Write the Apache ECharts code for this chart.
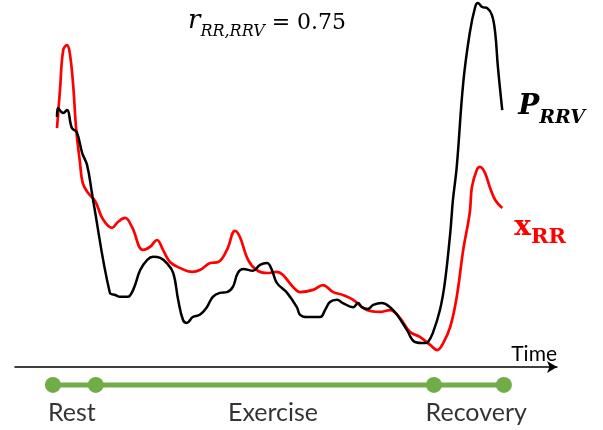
<!DOCTYPE html>
<html>
<head>
<meta charset="utf-8">
<script src="https://cdn.jsdelivr.net/npm/echarts@6/dist/echarts.min.js"></script>
<style>
  html, body { margin: 0; padding: 0; background: #fff; }
  #chart { width: 603px; height: 430px; }
</style>
</head>
<body>
<div id="chart"></div>
<script>
// time (0-100) vs normalised level (0-100)
const rrvTime = [7.75, 7.9, 8.9, 9.6, 10.5, 11.4, 12.4, 13.3, 14.2, 14.4, 17.5, 18.5, 19.4, 20.3, 20.8, 21.8, 23.1, 24.4, 25.5, 26.8, 28.0, 29.2, 30.1, 31.0, 31.7, 32.8, 34.1, 35.4, 36.5, 37.8, 39.1, 40.2, 41.1, 42.1, 43.9, 45.2, 46.5, 47.4, 48.3, 50.2, 52.0, 52.6, 53.9, 56.3, 57.2, 58.1, 59.4, 60.5, 62.4, 63.3, 64.0, 65.1, 66.1, 67.7, 69.2, 70.5, 72.3, 73.8, 75.6, 76.2, 77.1, 78.4, 79.3, 80.3, 80.8, 81.5, 82.7, 83.9, 84.9, 85.4, 86.2, 87.1, 88.0, 88.6, 89.1, 89.9];
const rrvLevel = [68.1, 70.6, 69.2, 70.0, 65.1, 64.0, 58.3, 55.0, 47.4, 45.5, 20.2, 19.6, 19.1, 19.1, 19.1, 21.0, 26.4, 29.2, 30.0, 29.7, 28.3, 25.6, 18.3, 12.8, 12.0, 13.6, 14.2, 16.3, 19.1, 20.2, 20.4, 21.8, 25.6, 26.7, 26.2, 27.8, 28.3, 26.4, 22.9, 20.2, 16.3, 14.2, 13.6, 13.6, 15.5, 17.7, 18.3, 17.4, 16.3, 17.4, 16.3, 15.8, 16.9, 17.4, 16.3, 14.2, 10.1, 6.8, 6.5, 6.8, 9.3, 15.5, 22.9, 36.5, 45.5, 54.5, 77.4, 91.0, 98.1, 99.2, 98.1, 97.8, 95.9, 91.0, 81.7, 70.0];

const rrTime = [7.75, 8.3, 8.9, 9.6, 10.1, 10.7, 11.3, 12.0, 12.5, 13.5, 14.8, 16.2, 17.9, 19.0, 20.3, 21.6, 23.6, 24.9, 26.2, 27.3, 28.6, 30.4, 32.7, 34.1, 36.0, 37.5, 39.1, 40.6, 41.5, 43.0, 44.6, 46.5, 48.3, 49.4, 51.3, 52.6, 55.0, 56.8, 58.7, 60.5, 62.4, 64.9, 67.3, 69.2, 71.0, 72.9, 74.7, 76.6, 77.9, 79.0, 80.3, 81.5, 82.7, 83.9, 84.3, 85.2, 85.8, 86.7, 87.6, 88.6, 89.9];
const rrLevel = [65.1, 75.5, 86.4, 87.7, 85.6, 77.4, 64.6, 55.6, 50.1, 47.4, 45.2, 40.3, 37.9, 39.5, 40.6, 38.1, 31.9, 32.7, 34.6, 31.9, 28.6, 27.0, 25.9, 26.4, 28.3, 28.6, 31.9, 37.1, 35.4, 29.2, 26.4, 25.6, 25.9, 25.1, 21.8, 20.4, 21.0, 22.3, 20.4, 19.6, 18.3, 15.5, 15.0, 15.5, 13.4, 9.5, 8.2, 6.0, 4.6, 6.5, 10.9, 19.1, 31.9, 42.0, 49.0, 53.7, 54.5, 52.9, 49.0, 45.5, 43.3];

// protocol phases on the timeline
const phaseBounds = [7.0, 14.9, 77.3, 90.2];
const phaseNames = ['Rest', 'Exercise', 'Recovery'];
const phaseLabelTime = [10.5, 47.6, 85.1];
const timelineLevel = -4.9;
const phaseLabelLevel = -12.6;

const correlation = 0.75;

const chart = echarts.init(document.getElementById('chart'), null, { renderer: 'canvas' });

const zip = (xs, ys) => xs.map((x, i) => [x, ys[i]]);

chart.setOption({
  animation: false,
  title: {
    text: '{r|r}{sub|RR,RRV}{eq| = ' + correlation.toFixed(2) + '}',
    left: 183,
    top: 3,
    textStyle: {
      fontWeight: 'normal',
      rich: {
        r: { fontFamily: 'DejaVu Serif', fontStyle: 'italic', fontWeight: 'normal', fontSize: 26, color: '#000', verticalAlign: 'bottom' },
        sub: { fontFamily: 'DejaVu Serif', fontStyle: 'italic', fontWeight: 'normal', fontSize: 16, color: '#000', verticalAlign: 'bottom', padding: [0, 0, -6, 0] },
        eq: { fontFamily: 'DejaVu Serif', fontWeight: 'normal', fontSize: 22, color: '#000', verticalAlign: 'bottom' }
      }
    }
  },
  grid: { left: 15, right: 46, top: 0, bottom: 8 },
  xAxis: {
    type: 'value',
    min: 0,
    max: 100,
    name: 'Time',
    nameLocation: 'end',
    nameGap: 0,
    nameTextStyle: { fontFamily: 'Lato', fontSize: 21, color: '#000', align: 'right', verticalAlign: 'bottom', padding: [0, 0, 2, 0] },
    axisLine: { show: true, onZero: true, symbol: ['none', 'arrow'], symbolSize: [9, 10], lineStyle: { color: '#000', width: 1.5 } },
    axisTick: { show: false },
    axisLabel: { show: false },
    splitLine: { show: false }
  },
  yAxis: {
    type: 'value',
    min: -15,
    max: 100,
    show: false,
    splitLine: { show: false }
  },
  series: [
    {
      name: 'x_RR',
      type: 'line',
      data: zip(rrTime, rrLevel),
      smooth: 0.4,
      showSymbol: false,
      lineStyle: { color: '#ff0000', width: 2.7 },
      endLabel: {
        show: true,
        distance: 12,
        offset: [0, 20],
        formatter: '{x|x}{s|RR}',
        rich: {
          x: { fontFamily: 'DejaVu Serif', fontWeight: 'bold', fontSize: 28, color: '#ff0000', verticalAlign: 'bottom' },
          s: { fontFamily: 'DejaVu Serif', fontWeight: 'bold', fontSize: 21, color: '#ff0000', verticalAlign: 'bottom', padding: [0, 0, -6, 0] }
        }
      }
    },
    {
      name: 'P_RRV',
      type: 'line',
      data: zip(rrvTime, rrvLevel),
      smooth: 0.4,
      showSymbol: false,
      lineStyle: { color: '#000', width: 2.5 },
      endLabel: {
        show: true,
        distance: 16,
        offset: [0, -3],
        formatter: '{p|P}{s|RRV}',
        rich: {
          p: { fontFamily: 'DejaVu Serif', fontWeight: 'bold', fontStyle: 'italic', fontSize: 28, color: '#000', verticalAlign: 'bottom' },
          s: { fontFamily: 'DejaVu Serif', fontWeight: 'bold', fontStyle: 'italic', fontSize: 19, color: '#000', verticalAlign: 'bottom', padding: [0, 0, -6, 0] }
        }
      }
    },
    {
      name: 'timeline',
      type: 'line',
      data: phaseBounds.map(t => [t, timelineLevel]),
      symbol: 'circle',
      symbolSize: 16,
      itemStyle: { color: '#70ad47' },
      lineStyle: { color: '#70ad47', width: 5 },
      z: 3
    },
    {
      name: 'phases',
      type: 'scatter',
      data: phaseLabelTime.map((t, i) => ({ value: [t, phaseLabelLevel], name: phaseNames[i] })),
      symbolSize: 0,
      label: {
        show: true,
        position: 'inside',
        formatter: p => p.name,
        fontFamily: 'Lato',
        fontSize: 25,
        color: '#000'
      }
    }
  ]
});
</script>
</body>
</html>
